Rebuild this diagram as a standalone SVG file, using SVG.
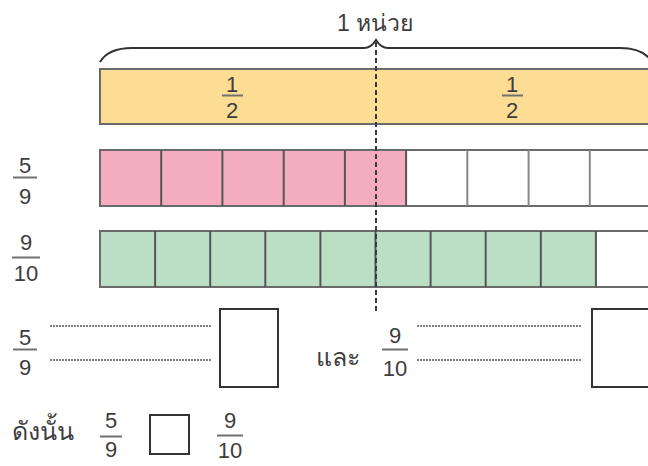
<svg xmlns="http://www.w3.org/2000/svg" width="648" height="466" viewBox="0 0 648 466">
<style>
  .t { font-family: "Liberation Sans", "DejaVu Sans", sans-serif; font-size: 22px; fill: #3d3d3d; }
  .th { font-size: 25px; }
  .n { text-anchor: middle; }
  .fl { stroke: #707070; stroke-width: 2; }
  .bar { stroke: #6a6a6a; stroke-width: 2; }
  .cell { stroke: #555; stroke-width: 2; }
  .box { fill: #ffffff; stroke: #333; stroke-width: 2; }
  .dot { stroke: #555; stroke-width: 1.5; stroke-dasharray: 2 1; }
</style>
<rect width="648" height="466" fill="#ffffff"/>

<g id="title">
  <text class="t n" x="375" y="31" style="font-size:23px">1 หน่วย</text>
  <path d="M100,62 C106,52 116,48 132,48 L364,48 Q371,48 376,40 Q381,48 388,48 L620,48 C636,48 646,52 652,62" fill="none" stroke="#333" stroke-width="2"/>
</g>

<g id="half-bar">
  <rect class="bar" x="100" y="69" width="551" height="55" fill="#FDDC93"/>
  <text class="t n" x="232" y="92">1</text>
  <line class="fl" x1="222" y1="95.5" x2="243" y2="95.5"/>
  <text class="t n" x="232" y="118">2</text>
  <text class="t n" x="512" y="92">1</text>
  <line class="fl" x1="502" y1="95.5" x2="523" y2="95.5"/>
  <text class="t n" x="512" y="118">2</text>
</g>

<g id="ninths-bar">
  <rect x="100" y="150" width="306" height="56" fill="#F4ACC0"/>
  <rect class="bar" x="100" y="150" width="551" height="56" fill="none"/>
  <g class="cell">
    <line x1="161.2" y1="150" x2="161.2" y2="206"/>
    <line x1="222.4" y1="150" x2="222.4" y2="206"/>
    <line x1="283.7" y1="150" x2="283.7" y2="206"/>
    <line x1="344.9" y1="150" x2="344.9" y2="206"/>
    <line x1="406.1" y1="150" x2="406.1" y2="206"/>
  </g>
  <g stroke="#888" stroke-width="2">
    <line x1="467.3" y1="150" x2="467.3" y2="206"/>
    <line x1="528.6" y1="150" x2="528.6" y2="206"/>
    <line x1="589.8" y1="150" x2="589.8" y2="206"/>
  </g>
</g>

<g id="label-5-9">
  <text class="t n" x="25" y="173">5</text>
  <line class="fl" x1="13" y1="177.5" x2="37" y2="177.5"/>
  <text class="t n" x="25" y="204">9</text>
</g>

<g id="tenths-bar">
  <rect x="100" y="231" width="496" height="56" fill="#BBDFC5"/>
  <rect class="bar" x="100" y="231" width="551" height="56" fill="none"/>
  <g class="cell">
    <line x1="155.1" y1="231" x2="155.1" y2="287"/>
    <line x1="210.2" y1="231" x2="210.2" y2="287"/>
    <line x1="265.3" y1="231" x2="265.3" y2="287"/>
    <line x1="320.4" y1="231" x2="320.4" y2="287"/>
    <line x1="375.5" y1="231" x2="375.5" y2="287"/>
    <line x1="430.6" y1="231" x2="430.6" y2="287"/>
    <line x1="485.7" y1="231" x2="485.7" y2="287"/>
    <line x1="540.8" y1="231" x2="540.8" y2="287"/>
    <line x1="595.9" y1="231" x2="595.9" y2="287"/>
  </g>
</g>

<g id="label-9-10">
  <text class="t n" x="26" y="250">9</text>
  <line class="fl" x1="12" y1="257.5" x2="40" y2="257.5"/>
  <text class="t n" x="26" y="281">10</text>
</g>

<g id="connectors">
  <line x1="376" y1="42" x2="376" y2="312" stroke="#3a3a3a" stroke-width="2" stroke-dasharray="5 3"/>
</g>

<g id="compare-5-9">
  <text class="t n" x="25" y="345">5</text>
  <line class="fl" x1="13" y1="349.5" x2="37" y2="349.5"/>
  <text class="t n" x="25" y="375">9</text>
  <line class="dot" x1="50" y1="326" x2="212" y2="326"/>
  <line class="dot" x1="50" y1="360" x2="212" y2="360"/>
  <rect class="box" x="220" y="309" width="58" height="78"/>
</g>

<g id="and-label">
  <text class="t th" x="316" y="366">และ</text>
</g>

<g id="compare-9-10">
  <text class="t n" x="395" y="343">9</text>
  <line class="fl" x1="382" y1="349.5" x2="408" y2="349.5"/>
  <text class="t n" x="395" y="376">10</text>
  <line class="dot" x1="417" y1="326" x2="582" y2="326"/>
  <line class="dot" x1="417" y1="360" x2="582" y2="360"/>
  <rect class="box" x="592" y="309" width="60" height="78"/>
</g>

<g id="conclusion">
  <text class="t th" x="12" y="440">ดังนั้น</text>
  <text class="t n" x="111" y="428">5</text>
  <line class="fl" x1="100" y1="436.5" x2="122" y2="436.5"/>
  <text class="t n" x="111" y="457">9</text>
  <rect class="box" x="150" y="415" width="39" height="39"/>
  <text class="t n" x="230" y="428">9</text>
  <line class="fl" x1="217" y1="435.5" x2="243" y2="435.5"/>
  <text class="t n" x="230" y="458">10</text>
</g>
</svg>
